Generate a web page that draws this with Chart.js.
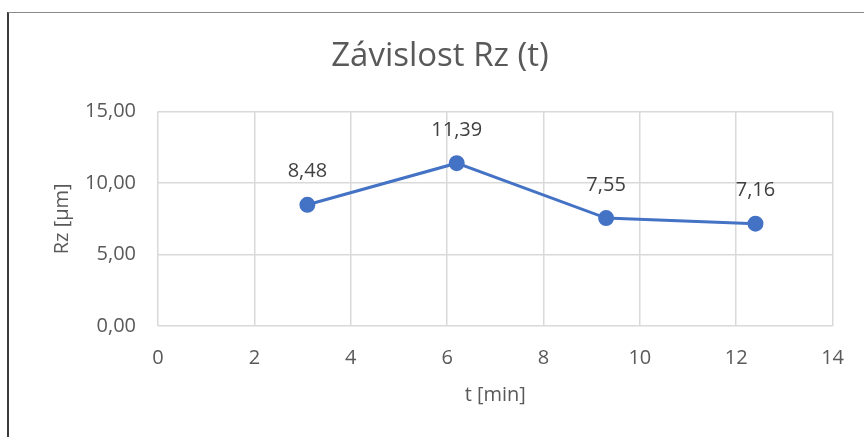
<!DOCTYPE html>
<html lang="cs">
<head>
<meta charset="UTF-8">
<title>Závislost Rz (t)</title>
<script src="https://cdn.jsdelivr.net/npm/chart.js"></script>
<style>
    html, body {
        margin: 0;
        padding: 0;
        background: #ffffff;
        width: 864px;
        height: 437px;
        overflow: hidden;
    }
    .frame {
        position: absolute;
        left: 7px;
        top: 12px;
        right: 0;
        bottom: 0;
        border-left: 2px solid #3a3a3a;
        border-top: 1px solid #8a8a8a;
    }
    .chart-box {
        position: absolute;
        left: 0;
        top: 0;
        width: 864px;
        height: 437px;
    }
</style>
</head>
<body>
<div class="frame"></div>
<div class="chart-box"><canvas id="chart"></canvas></div>

<script>
    // measured times and roughness
    const times = [3.1, 6.2, 9.3, 12.4];
    const rzValues = [8.48, 11.39, 7.55, 7.16];

    const xTicks = [0, 2, 4, 6, 8, 10, 12, 14];
    const yTicks = [0, 5, 10, 15];

    const fontFamily = '"Open Sans", sans-serif';
    const textGrey = '#595959';

    const fmt = v => v.toFixed(2).replace('.', ',');

    // value labels above each point
    const pointLabels = {
        id: 'pointLabels',
        afterDatasetsDraw(chart) {
            const ctx = chart.ctx;
            const meta = chart.getDatasetMeta(0);
            ctx.save();
            ctx.font = '20px ' + fontFamily;
            ctx.fillStyle = '#404040';
            ctx.textAlign = 'center';
            ctx.textBaseline = 'middle';
            meta.data.forEach((pt, i) => {
                ctx.fillText(fmt(rzValues[i]), pt.x, pt.y - 33);
            });
            ctx.restore();
        }
    };

    new Chart(document.getElementById('chart'), {
        type: 'scatter',
        data: {
            datasets: [{
                label: 'Rz',
                data: times.map((t, i) => ({ x: t, y: rzValues[i] })),
                showLine: true,
                borderColor: '#4472C4',
                backgroundColor: '#4472C4',
                borderWidth: 3,
                pointRadius: 6.5,
                pointHoverRadius: 6.5
            }]
        },
        options: {
            responsive: true,
            maintainAspectRatio: false,
            animation: false,
            layout: { padding: { left: 16, right: 0, top: 0, bottom: 0 } },
            plugins: {
                legend: { display: false },
                tooltip: { enabled: false },
                title: {
                    display: true,
                    text: 'Závislost Rz (t)',
                    color: textGrey,
                    font: { family: fontFamily, size: 33, weight: 'normal' },
                    padding: { top: 37, bottom: 35 }
                }
            },
            scales: {
                x: {
                    type: 'linear',
                    min: 0,
                    max: 14,
                    afterFit: s => { s.height = 111; },
                    afterBuildTicks: s => { s.ticks = xTicks.map(v => ({ value: v })); },
                    grid: { color: '#d9d9d9', lineWidth: 1.5, drawTicks: false },
                    border: { display: false },
                    ticks: {
                        color: textGrey,
                        padding: 20,
                        font: { family: fontFamily, size: 20 }
                    },
                    title: {
                        display: true,
                        text: 't [min]',
                        color: textGrey,
                        font: { family: fontFamily, size: 20 },
                        padding: { bottom: 30 }
                    }
                },
                y: {
                    min: 0,
                    max: 15,
                    afterFit: s => { s.width = 142; },
                    afterBuildTicks: s => { s.ticks = yTicks.map(v => ({ value: v })); },
                    grid: { color: '#d9d9d9', lineWidth: 1.5, drawTicks: false },
                    border: { display: false },
                    ticks: {
                        color: textGrey,
                        padding: 22,
                        font: { family: fontFamily, size: 20 },
                        callback: v => fmt(v)
                    },
                    title: {
                        display: true,
                        text: 'Rz [µm]',
                        color: textGrey,
                        font: { family: fontFamily, size: 20 },
                        padding: { top: 34 }
                    }
                },
                // empty right-hand margin so the plot ends where the frame expects
                yRight: {
                    position: 'right',
                    afterFit: s => { s.width = 30; },
                    grid: { display: false },
                    border: { display: false },
                    ticks: { display: false }
                }
            }
        },
        plugins: [pointLabels]
    });
</script>
</body>
</html>
